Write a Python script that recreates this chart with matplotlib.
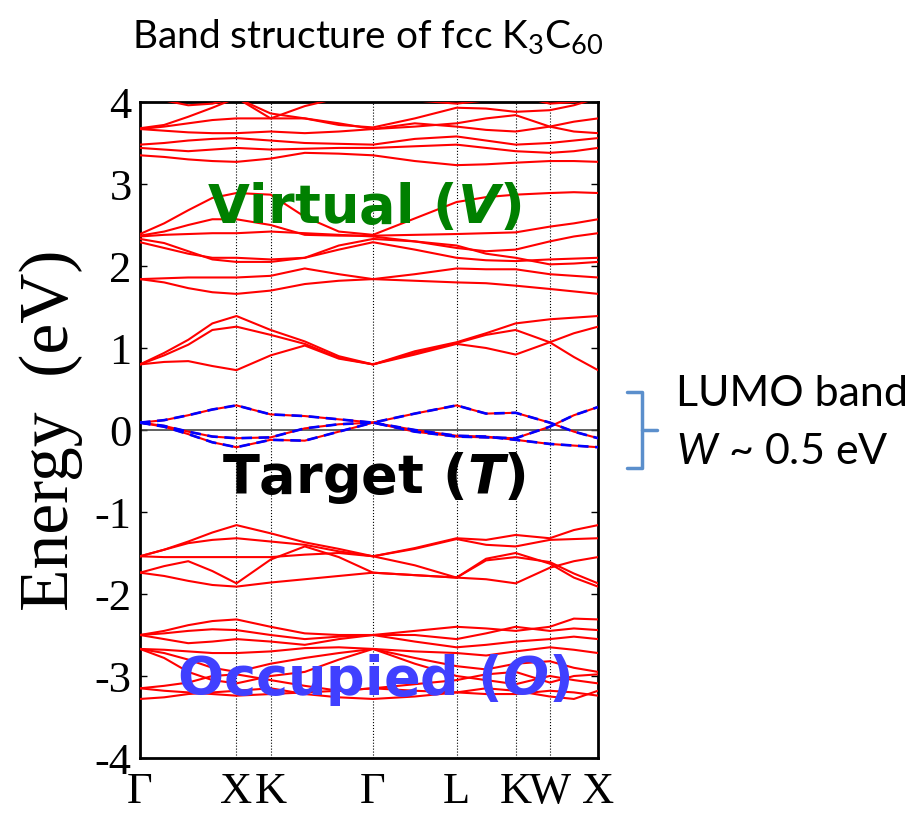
import numpy as np
import matplotlib
matplotlib.use("Agg")
import matplotlib.pyplot as plt
from matplotlib.lines import Line2D

plt.rcParams['mathtext.fontset'] = 'custom'
plt.rcParams['mathtext.rm'] = 'Lato'
plt.rcParams['mathtext.it'] = 'Lato:italic'
plt.rcParams['mathtext.bfit'] = 'DejaVu Sans:italic:bold'

# ---- k-path (distance along path, units of 2pi/a) ----
K_LABELS = ['Γ', 'X', 'K', 'Γ', 'L', 'K', 'W', 'X']
K_NODES = [0.0, 1.0, 1.354, 2.415, 3.281, 3.893, 4.247, 4.747]
K_GRID = [0.0, 0.25, 0.5, 0.75, 1.0, 1.354, 1.708, 2.061, 2.415,
          2.848, 3.281, 3.587, 3.893, 4.247, 4.497, 4.747]

# ---- LUMO (target) bands, eV ----
target_a = [0.09, 0.12, 0.18, 0.25, 0.30, 0.19, 0.17, 0.13, 0.09, 0.20, 0.30, 0.20, 0.21, 0.09, -0.02, -0.10]
target_b = [0.09, 0.05, -0.02, -0.08, -0.10, -0.09, 0.02, 0.07, 0.09, -0.02, -0.08, -0.09, -0.10, 0.04, 0.18, 0.28]
target_c = [0.09, 0.04, -0.05, -0.15, -0.21, -0.12, -0.13, -0.02, 0.09, 0.00, -0.07, -0.08, -0.12, -0.17, -0.19, -0.21]

# ---- virtual bands ----
v1_a = [0.80, 0.94, 1.10, 1.30, 1.39, 1.22, 1.08, 0.90, 0.80, 0.96, 1.07, 1.18, 1.30, 1.35, 1.37, 1.39]
v1_b = [0.80, 0.91, 1.04, 1.22, 1.26, 1.16, 1.05, 0.88, 0.80, 0.94, 1.06, 1.16, 1.22, 1.07, 1.18, 1.26]
v1_c = [0.80, 0.83, 0.84, 0.78, 0.73, 0.91, 1.03, 0.87, 0.80, 0.92, 1.05, 1.00, 0.92, 1.07, 0.89, 0.73]

v2_a = [1.84, 1.80, 1.73, 1.68, 1.66, 1.70, 1.78, 1.82, 1.84, 1.82, 1.80, 1.79, 1.76, 1.72, 1.69, 1.66]
v2_b = [1.84, 1.85, 1.86, 1.86, 1.86, 1.88, 1.97, 1.90, 1.84, 1.90, 1.97, 1.96, 1.96, 1.90, 1.88, 1.86]
v2_c = [2.29, 2.22, 2.15, 2.10, 2.10, 2.08, 2.10, 2.20, 2.29, 2.20, 2.10, 2.07, 2.06, 2.08, 2.09, 2.10]
v2_d = [2.33, 2.28, 2.18, 2.08, 2.05, 2.05, 2.10, 2.25, 2.33, 2.30, 2.25, 2.15, 2.10, 2.02, 2.03, 2.05]
v2_e = [2.36, 2.38, 2.39, 2.40, 2.40, 2.42, 2.40, 2.38, 2.36, 2.30, 2.22, 2.18, 2.20, 2.30, 2.36, 2.40]
v2_f = [2.37, 2.42, 2.50, 2.57, 2.57, 2.50, 2.38, 2.37, 2.37, 2.38, 2.39, 2.40, 2.41, 2.48, 2.52, 2.57]
v2_g = [2.39, 2.52, 2.68, 2.83, 2.89, 2.87, 2.60, 2.42, 2.38, 2.58, 2.78, 2.84, 2.87, 2.89, 2.90, 2.89]

v3_a = [3.35, 3.33, 3.30, 3.28, 3.27, 3.31, 3.38, 3.37, 3.35, 3.28, 3.23, 3.24, 3.26, 3.28, 3.28, 3.27]
v3_b = [3.44, 3.42, 3.40, 3.42, 3.44, 3.42, 3.43, 3.44, 3.44, 3.46, 3.48, 3.44, 3.40, 3.38, 3.40, 3.44]
v3_c = [3.48, 3.50, 3.53, 3.55, 3.56, 3.53, 3.50, 3.49, 3.48, 3.55, 3.58, 3.53, 3.48, 3.50, 3.53, 3.56]
v3_d = [3.67, 3.70, 3.74, 3.78, 3.80, 3.80, 3.80, 3.74, 3.67, 3.74, 3.70, 3.66, 3.64, 3.70, 3.76, 3.80]
v3_e = [3.67, 3.65, 3.63, 3.62, 3.62, 3.64, 3.62, 3.64, 3.67, 3.70, 3.74, 3.80, 3.84, 3.70, 3.64, 3.62]
v3_f = [3.68, 3.72, 3.82, 3.93, 4.05, 3.86, 3.80, 3.72, 3.69, 3.80, 3.93, 3.92, 3.88, 3.90, 3.96, 4.05]
v3_g = [4.10, 4.02, 3.96, 3.98, 4.05, 3.80, 3.95, 4.05, 4.10, 4.02, 3.98, 4.02, 4.08, 3.98, 4.00, 4.05]

# ---- occupied bands ----
o1_a = [-1.54, -1.46, -1.36, -1.25, -1.16, -1.26, -1.37, -1.45, -1.54, -1.44, -1.32, -1.34, -1.28, -1.32, -1.22, -1.16]
o1_b = [-1.54, -1.46, -1.38, -1.34, -1.32, -1.36, -1.40, -1.48, -1.54, -1.45, -1.33, -1.40, -1.42, -1.34, -1.33, -1.32]
o1_c = [-1.54, -1.55, -1.55, -1.55, -1.55, -1.55, -1.52, -1.50, -1.54, -1.65, -1.80, -1.82, -1.87, -1.68, -1.60, -1.55]
o1_d = [-1.74, -1.66, -1.60, -1.72, -1.87, -1.58, -1.42, -1.55, -1.74, -1.77, -1.80, -1.59, -1.55, -1.61, -1.75, -1.87]
o1_e = [-1.74, -1.78, -1.84, -1.89, -1.91, -1.86, -1.82, -1.78, -1.74, -1.77, -1.80, -1.57, -1.50, -1.63, -1.80, -1.91]

o2_a = [-2.50, -2.45, -2.38, -2.33, -2.31, -2.40, -2.48, -2.50, -2.50, -2.45, -2.40, -2.42, -2.45, -2.40, -2.30, -2.31]
o2_b = [-2.50, -2.48, -2.45, -2.43, -2.44, -2.50, -2.55, -2.52, -2.50, -2.50, -2.55, -2.48, -2.40, -2.45, -2.42, -2.44]
o2_c = [-2.50, -2.55, -2.60, -2.58, -2.55, -2.58, -2.62, -2.55, -2.50, -2.58, -2.65, -2.62, -2.58, -2.55, -2.52, -2.55]
o2_d = [-2.67, -2.68, -2.70, -2.72, -2.72, -2.70, -2.66, -2.65, -2.67, -2.70, -2.72, -2.75, -2.70, -2.65, -2.68, -2.72]
o2_e = [-2.67, -2.72, -2.80, -2.90, -2.95, -2.85, -2.78, -2.72, -2.67, -2.78, -2.88, -2.92, -2.85, -2.82, -2.90, -2.95]
o2_f = [-2.67, -2.78, -2.95, -3.05, -3.09, -3.00, -2.95, -2.80, -2.67, -2.85, -3.00, -3.05, -3.10, -3.00, -3.05, -3.09]
o2_g = [-3.15, -3.12, -3.08, -3.00, -2.98, -3.05, -3.12, -3.18, -3.15, -3.10, -3.05, -2.98, -2.95, -3.08, -3.00, -2.98]
o2_h = [-3.15, -3.18, -3.20, -3.22, -3.24, -3.22, -3.20, -3.18, -3.15, -3.18, -3.20, -3.22, -3.22, -3.18, -3.20, -3.24]
o2_i = [-3.28, -3.26, -3.22, -3.20, -3.18, -3.15, -3.22, -3.26, -3.28, -3.25, -3.20, -3.15, -3.18, -3.25, -3.28, -3.18]

target_bands = [target_a, target_b, target_c]
other_bands = [v1_a, v1_b, v1_c, v2_a, v2_b, v2_c, v2_d, v2_e, v2_f, v2_g,
               v3_a, v3_b, v3_c, v3_d, v3_e, v3_f, v3_g,
               o1_a, o1_b, o1_c, o1_d, o1_e,
               o2_a, o2_b, o2_c, o2_d, o2_e, o2_f, o2_g, o2_h, o2_i]

W, H = 920, 813
fig = plt.figure(figsize=(W / 100, H / 100), dpi=100)
ax = fig.add_axes([140 / W, 55 / H, 458 / W, 656 / H])

for b in other_bands + target_bands:
    ax.plot(K_GRID, b, color='red', lw=1.5, zorder=3)
for b in target_bands:
    ax.plot(K_GRID, b, color='blue', lw=1.9, ls=(0, (4, 2.5)), zorder=4)

for k in K_NODES[1:-1]:
    ax.axvline(k, color='black', lw=0.8, ls=':', zorder=1)
ax.axhline(0, color='#444444', lw=1.2, zorder=2)

ax.set_xlim(K_NODES[0], K_NODES[-1])
ax.set_ylim(-4, 4)
ax.set_xticks(K_NODES)
ax.set_xticklabels(K_LABELS, family='Liberation Serif', fontsize=32)
ax.set_yticks(range(-4, 5))
ax.set_yticklabels([str(v) for v in range(-4, 5)], family='Liberation Serif', fontsize=32)
ax.tick_params(axis='x', length=0, pad=10)
ax.tick_params(axis='y', direction='in', length=5, width=1, right=True, pad=6)
for s in ax.spines.values():
    s.set_linewidth(2)
ax.set_ylabel('Energy  (eV)', family='Liberation Serif', fontsize=50, labelpad=8)

# region labels
ax.text(0.49, 0.838, r'Virtual ($\mathbfit{V}$)', transform=ax.transAxes, ha='center', va='center',
        fontsize=39, fontweight='bold', color='#008000', family='DejaVu Sans', zorder=6)
ax.text(0.51, 0.427, r'Target ($\mathbfit{T}$)', transform=ax.transAxes, ha='center', va='center',
        fontsize=39, fontweight='bold', color='black', family='DejaVu Sans', zorder=6)
ax.text(0.51, 0.119, r'Occupied ($\mathbfit{O}$)', transform=ax.transAxes, ha='center', va='center',
        fontsize=39, fontweight='bold', color='#4040ff', family='DejaVu Sans', zorder=6)

fig.text(368 / W, 1 - 36 / H, r'Band structure of fcc K$_3$C$_{60}$', ha='center', va='center',
         family='Lato', fontsize=28)

# LUMO bracket
bc = '#5b8fcc'
fx = lambda x: x / W
fy = lambda y: 1 - y / H
fig.add_artist(Line2D([fx(627), fx(642), fx(642), fx(627)], [fy(392), fy(392), fy(468), fy(468)],
                      color=bc, lw=2.5, solid_joinstyle='round', solid_capstyle='round'))
fig.add_artist(Line2D([fx(642), fx(657)], [fy(430), fy(430)], color=bc, lw=2.5, solid_capstyle='round'))
fig.text(fx(676), fy(394), 'LUMO band', ha='left', va='center', family='Lato', fontsize=31)
fig.text(fx(676), fy(452), r'$\mathit{W}$ ~ 0.5 eV', ha='left', va='center', family='Lato', fontsize=31)

fig.savefig('out.png', dpi=100)
